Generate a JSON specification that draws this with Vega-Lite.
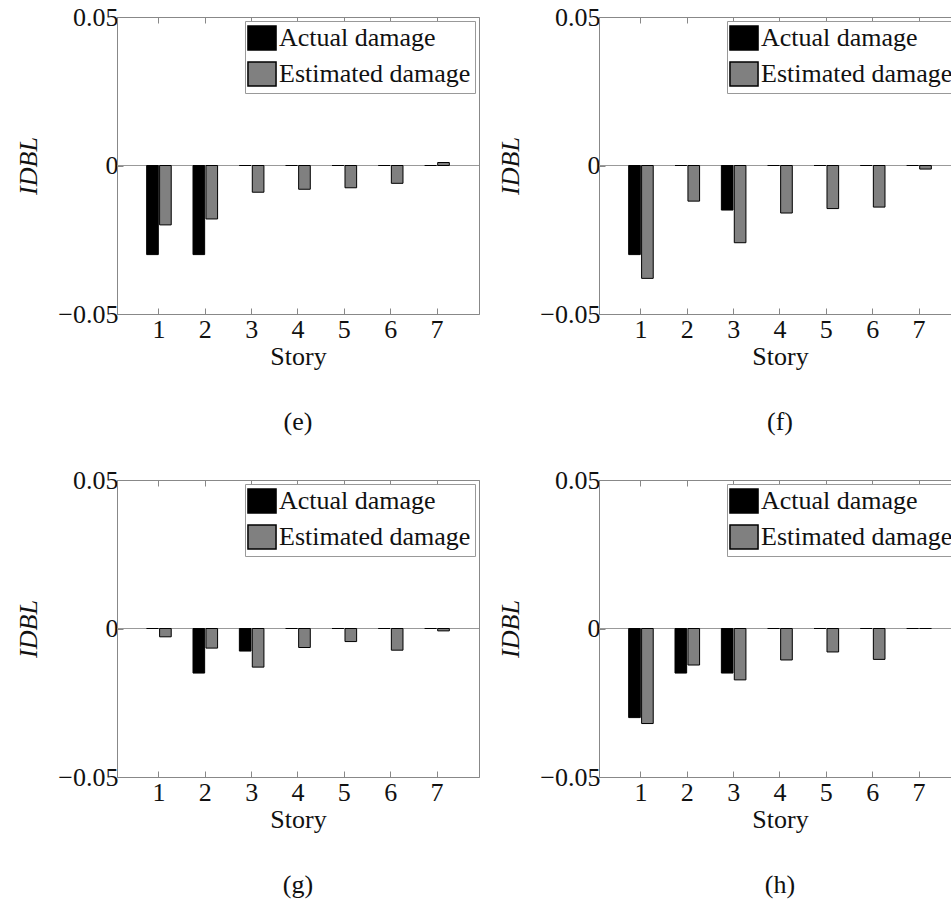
{
  "$schema": "https://vega.github.io/schema/vega-lite/v6.json",
  "padding": {"left": 15, "top": 3, "right": 0, "bottom": 0},
  "datasets": {
    "bars": [
      {"panel": "e", "story": 1, "type": "Actual damage", "value": -0.030},
      {"panel": "e", "story": 2, "type": "Actual damage", "value": -0.030},
      {"panel": "e", "story": 3, "type": "Actual damage", "value": 0},
      {"panel": "e", "story": 4, "type": "Actual damage", "value": 0},
      {"panel": "e", "story": 5, "type": "Actual damage", "value": 0},
      {"panel": "e", "story": 6, "type": "Actual damage", "value": 0},
      {"panel": "e", "story": 7, "type": "Actual damage", "value": 0},
      {"panel": "e", "story": 1, "type": "Estimated damage", "value": -0.020},
      {"panel": "e", "story": 2, "type": "Estimated damage", "value": -0.018},
      {"panel": "e", "story": 3, "type": "Estimated damage", "value": -0.009},
      {"panel": "e", "story": 4, "type": "Estimated damage", "value": -0.008},
      {"panel": "e", "story": 5, "type": "Estimated damage", "value": -0.0075},
      {"panel": "e", "story": 6, "type": "Estimated damage", "value": -0.006},
      {"panel": "e", "story": 7, "type": "Estimated damage", "value": 0.001},
      {"panel": "f", "story": 1, "type": "Actual damage", "value": -0.030},
      {"panel": "f", "story": 2, "type": "Actual damage", "value": 0},
      {"panel": "f", "story": 3, "type": "Actual damage", "value": -0.015},
      {"panel": "f", "story": 4, "type": "Actual damage", "value": 0},
      {"panel": "f", "story": 5, "type": "Actual damage", "value": 0},
      {"panel": "f", "story": 6, "type": "Actual damage", "value": 0},
      {"panel": "f", "story": 7, "type": "Actual damage", "value": 0},
      {"panel": "f", "story": 1, "type": "Estimated damage", "value": -0.038},
      {"panel": "f", "story": 2, "type": "Estimated damage", "value": -0.012},
      {"panel": "f", "story": 3, "type": "Estimated damage", "value": -0.026},
      {"panel": "f", "story": 4, "type": "Estimated damage", "value": -0.016},
      {"panel": "f", "story": 5, "type": "Estimated damage", "value": -0.0145},
      {"panel": "f", "story": 6, "type": "Estimated damage", "value": -0.014},
      {"panel": "f", "story": 7, "type": "Estimated damage", "value": -0.0012},
      {"panel": "g", "story": 1, "type": "Actual damage", "value": 0},
      {"panel": "g", "story": 2, "type": "Actual damage", "value": -0.015},
      {"panel": "g", "story": 3, "type": "Actual damage", "value": -0.0076},
      {"panel": "g", "story": 4, "type": "Actual damage", "value": 0},
      {"panel": "g", "story": 5, "type": "Actual damage", "value": 0},
      {"panel": "g", "story": 6, "type": "Actual damage", "value": 0},
      {"panel": "g", "story": 7, "type": "Actual damage", "value": 0},
      {"panel": "g", "story": 1, "type": "Estimated damage", "value": -0.0028},
      {"panel": "g", "story": 2, "type": "Estimated damage", "value": -0.0066},
      {"panel": "g", "story": 3, "type": "Estimated damage", "value": -0.013},
      {"panel": "g", "story": 4, "type": "Estimated damage", "value": -0.0064},
      {"panel": "g", "story": 5, "type": "Estimated damage", "value": -0.0044},
      {"panel": "g", "story": 6, "type": "Estimated damage", "value": -0.0073},
      {"panel": "g", "story": 7, "type": "Estimated damage", "value": -0.0008},
      {"panel": "h", "story": 1, "type": "Actual damage", "value": -0.030},
      {"panel": "h", "story": 2, "type": "Actual damage", "value": -0.015},
      {"panel": "h", "story": 3, "type": "Actual damage", "value": -0.015},
      {"panel": "h", "story": 4, "type": "Actual damage", "value": 0},
      {"panel": "h", "story": 5, "type": "Actual damage", "value": 0},
      {"panel": "h", "story": 6, "type": "Actual damage", "value": 0},
      {"panel": "h", "story": 7, "type": "Actual damage", "value": 0},
      {"panel": "h", "story": 1, "type": "Estimated damage", "value": -0.032},
      {"panel": "h", "story": 2, "type": "Estimated damage", "value": -0.0123},
      {"panel": "h", "story": 3, "type": "Estimated damage", "value": -0.0173},
      {"panel": "h", "story": 4, "type": "Estimated damage", "value": -0.0106},
      {"panel": "h", "story": 5, "type": "Estimated damage", "value": -0.0079},
      {"panel": "h", "story": 6, "type": "Estimated damage", "value": -0.0104},
      {"panel": "h", "story": 7, "type": "Estimated damage", "value": 0}
    ]
  },
  "data": {"name": "bars"},
  "spacing": 30,
  "resolve": {"legend": {"fill": "independent"}, "scale": {"fill": "shared"}},
  "vconcat": [
    {
      "spacing": 17,
      "resolve": {"legend": {"fill": "independent"}},
      "hconcat": [
        {
          "width": 362, "height": 297,
          "title": {"text": "(e)", "orient": "bottom", "offset": 40},
          "resolve": {"axis": {"x": "independent"}},
          "layer": [
            {"data": {"values": [{}]}, "mark": {"type": "rule", "color": "#999999", "strokeWidth": 1}, "encoding": {"y": {"datum": 0, "type": "quantitative", "scale": {"domain": [-0.05, 0.05], "nice": false}}}},
            {"transform": [{"filter": "datum.panel === 'e'"}], "mark": {"type": "point", "opacity": 0}, "encoding": {"x": {"field": "story", "type": "ordinal", "axis": {"orient": "top", "labels": false, "title": null}}}},
            {
              "transform": [{"filter": "datum.panel === 'e'"}],
              "mark": {"type": "bar", "stroke": "black", "strokeWidth": 1},
              "encoding": {
                "x": {"field": "story", "type": "ordinal", "scale": {"paddingInner": 0.47, "paddingOuter": 0.64}, "axis": {"title": "Story", "labelAngle": 0, "labelPadding": 8, "titlePadding": 1}},
                "xOffset": {"field": "type", "scale": {"domain": ["Actual damage", "Estimated damage"], "paddingInner": 0.1}},
                "y": {"field": "value", "type": "quantitative", "scale": {"domain": [-0.05, 0.05], "nice": false}, "axis": {"values": [-0.05, 0, 0.05], "format": ".2~f", "title": "IDBL", "titleFontStyle": "italic", "titleFontSize": 26, "titlePadding": 16, "labelPadding": 5}},
                "fill": {"field": "type", "type": "nominal", "scale": {"domain": ["Actual damage", "Estimated damage"], "range": ["#000000", "#808080"]}, "legend": {"title": null, "orient": "top-right"}}
              }
            }
          ]
        },
        {
          "width": 362, "height": 297,
          "title": {"text": "(f)", "orient": "bottom", "offset": 40},
          "resolve": {"axis": {"x": "independent"}},
          "layer": [
            {"data": {"values": [{}]}, "mark": {"type": "rule", "color": "#999999", "strokeWidth": 1}, "encoding": {"y": {"datum": 0, "type": "quantitative", "scale": {"domain": [-0.05, 0.05], "nice": false}}}},
            {"transform": [{"filter": "datum.panel === 'f'"}], "mark": {"type": "point", "opacity": 0}, "encoding": {"x": {"field": "story", "type": "ordinal", "axis": {"orient": "top", "labels": false, "title": null}}}},
            {
              "transform": [{"filter": "datum.panel === 'f'"}],
              "mark": {"type": "bar", "stroke": "black", "strokeWidth": 1},
              "encoding": {
                "x": {"field": "story", "type": "ordinal", "scale": {"paddingInner": 0.47, "paddingOuter": 0.64}, "axis": {"title": "Story", "labelAngle": 0, "labelPadding": 8, "titlePadding": 1}},
                "xOffset": {"field": "type", "scale": {"domain": ["Actual damage", "Estimated damage"], "paddingInner": 0.1}},
                "y": {"field": "value", "type": "quantitative", "scale": {"domain": [-0.05, 0.05], "nice": false}, "axis": {"values": [-0.05, 0, 0.05], "format": ".2~f", "title": "IDBL", "titleFontStyle": "italic", "titleFontSize": 26, "titlePadding": 16, "labelPadding": 5}},
                "fill": {"field": "type", "type": "nominal", "scale": {"domain": ["Actual damage", "Estimated damage"], "range": ["#000000", "#808080"]}, "legend": {"title": null, "orient": "top-right"}}
              }
            }
          ]
        }
      ]
    },
    {
      "spacing": 17,
      "resolve": {"legend": {"fill": "independent"}},
      "hconcat": [
        {
          "width": 362, "height": 297,
          "title": {"text": "(g)", "orient": "bottom", "offset": 40},
          "resolve": {"axis": {"x": "independent"}},
          "layer": [
            {"data": {"values": [{}]}, "mark": {"type": "rule", "color": "#999999", "strokeWidth": 1}, "encoding": {"y": {"datum": 0, "type": "quantitative", "scale": {"domain": [-0.05, 0.05], "nice": false}}}},
            {"transform": [{"filter": "datum.panel === 'g'"}], "mark": {"type": "point", "opacity": 0}, "encoding": {"x": {"field": "story", "type": "ordinal", "axis": {"orient": "top", "labels": false, "title": null}}}},
            {
              "transform": [{"filter": "datum.panel === 'g'"}],
              "mark": {"type": "bar", "stroke": "black", "strokeWidth": 1},
              "encoding": {
                "x": {"field": "story", "type": "ordinal", "scale": {"paddingInner": 0.47, "paddingOuter": 0.64}, "axis": {"title": "Story", "labelAngle": 0, "labelPadding": 8, "titlePadding": 1}},
                "xOffset": {"field": "type", "scale": {"domain": ["Actual damage", "Estimated damage"], "paddingInner": 0.1}},
                "y": {"field": "value", "type": "quantitative", "scale": {"domain": [-0.05, 0.05], "nice": false}, "axis": {"values": [-0.05, 0, 0.05], "format": ".2~f", "title": "IDBL", "titleFontStyle": "italic", "titleFontSize": 26, "titlePadding": 16, "labelPadding": 5}},
                "fill": {"field": "type", "type": "nominal", "scale": {"domain": ["Actual damage", "Estimated damage"], "range": ["#000000", "#808080"]}, "legend": {"title": null, "orient": "top-right"}}
              }
            }
          ]
        },
        {
          "width": 362, "height": 297,
          "title": {"text": "(h)", "orient": "bottom", "offset": 40},
          "resolve": {"axis": {"x": "independent"}},
          "layer": [
            {"data": {"values": [{}]}, "mark": {"type": "rule", "color": "#999999", "strokeWidth": 1}, "encoding": {"y": {"datum": 0, "type": "quantitative", "scale": {"domain": [-0.05, 0.05], "nice": false}}}},
            {"transform": [{"filter": "datum.panel === 'h'"}], "mark": {"type": "point", "opacity": 0}, "encoding": {"x": {"field": "story", "type": "ordinal", "axis": {"orient": "top", "labels": false, "title": null}}}},
            {
              "transform": [{"filter": "datum.panel === 'h'"}],
              "mark": {"type": "bar", "stroke": "black", "strokeWidth": 1},
              "encoding": {
                "x": {"field": "story", "type": "ordinal", "scale": {"paddingInner": 0.47, "paddingOuter": 0.64}, "axis": {"title": "Story", "labelAngle": 0, "labelPadding": 8, "titlePadding": 1}},
                "xOffset": {"field": "type", "scale": {"domain": ["Actual damage", "Estimated damage"], "paddingInner": 0.1}},
                "y": {"field": "value", "type": "quantitative", "scale": {"domain": [-0.05, 0.05], "nice": false}, "axis": {"values": [-0.05, 0, 0.05], "format": ".2~f", "title": "IDBL", "titleFontStyle": "italic", "titleFontSize": 26, "titlePadding": 16, "labelPadding": 5}},
                "fill": {"field": "type", "type": "nominal", "scale": {"domain": ["Actual damage", "Estimated damage"], "range": ["#000000", "#808080"]}, "legend": {"title": null, "orient": "top-right"}}
              }
            }
          ]
        }
      ]
    }
  ],
  "config": {
    "font": "Liberation Serif",
    "background": "white",
    "view": {"stroke": "#888888", "strokeWidth": 1},
    "axis": {
      "labelFont": "Liberation Serif", "labelFontSize": 26, "labelColor": "#111111",
      "titleFont": "Liberation Serif", "titleFontSize": 26, "titleFontWeight": "normal", "titleColor": "#111111",
      "domainColor": "#888888", "tickColor": "#888888", "grid": false, "tickSize": -6
    },
    "legend": {
      "labelFont": "Liberation Serif", "labelFontSize": 26, "labelColor": "#111111", "labelLimit": 400,
      "strokeColor": "#999999", "fillColor": "white", "padding": 4, "offset": 4, "rowPadding": 6, "labelOffset": 4,
      "symbolType": "M-1.17,-1H1.17V1H-1.17Z", "symbolSize": 576, "symbolStrokeColor": "black", "symbolStrokeWidth": 1.5, "symbolOpacity": 1
    },
    "title": {"font": "Liberation Serif", "fontSize": 26, "fontWeight": "normal", "color": "#111111"}
  }
}
